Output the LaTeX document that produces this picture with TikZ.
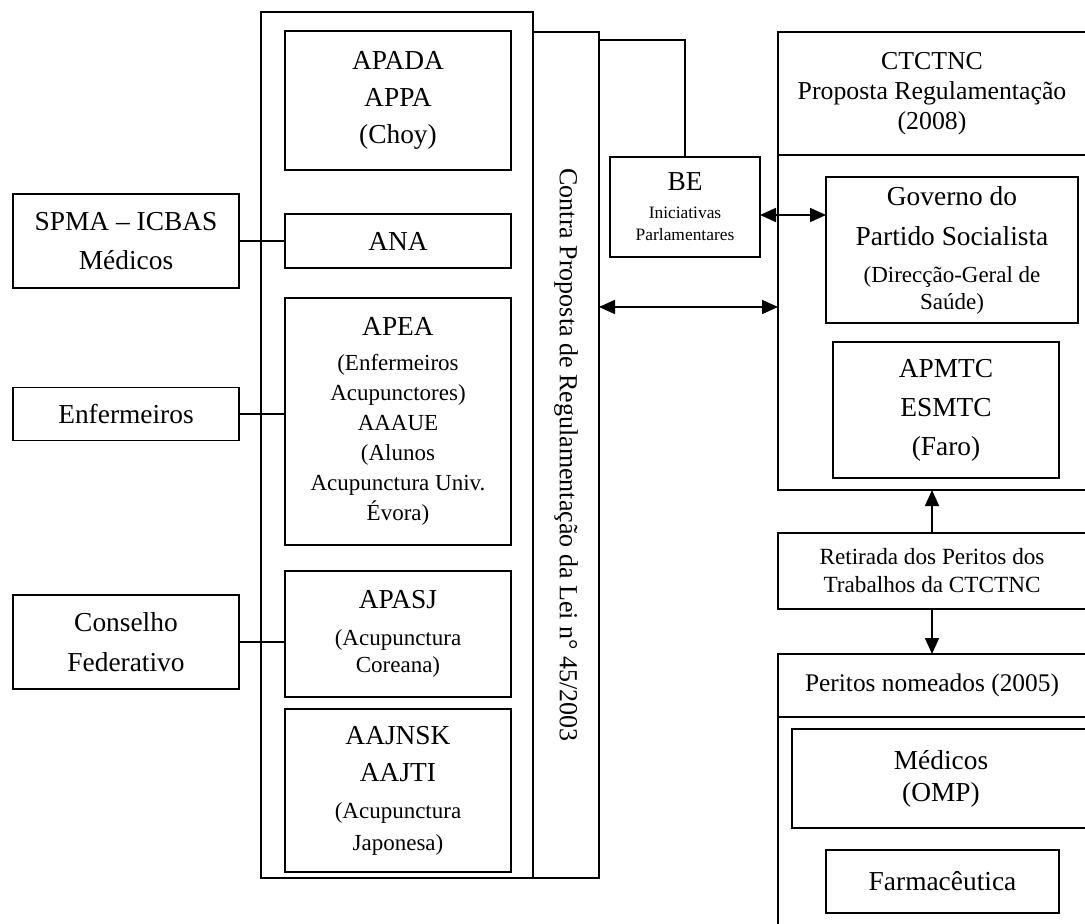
\documentclass[tikz,border=0pt]{standalone}
\usepackage{fontspec}
\setmainfont{Liberation Serif}
\usetikzlibrary{arrows.meta}

\newcommand{\bigtxt}{\fontsize{13.7}{18.5}\selectfont}
\newcommand{\medtxt}{\fontsize{11.5}{15}\selectfont}
\newcommand{\smalltxt}{\fontsize{8.7}{11}\selectfont}

\begin{document}
\begin{tikzpicture}[x=0.5pt,y=-0.5pt,line width=0.85pt,
  box/.style={draw,rectangle,inner sep=0pt,outer sep=0pt,align=center,font=\bigtxt},
  tip/.style={-{Triangle[length=8pt,width=7pt]}},
  twotip/.style={{Triangle[length=8pt,width=7pt]}-{Triangle[length=8pt,width=7pt]}}]
\useasboundingbox (0,0) rectangle (1085,924);

% associations
\node at (397,445) [box,minimum width=136pt,minimum height=433pt] (assoc) {};
\node at (566,455) [box,minimum width=33pt,minimum height=423pt] (contra) {};
\node at (contra.center) [rotate=-90,font=\fontsize{13}{15}\selectfont] (contralbl) {Contra Proposta de Regulamentação da Lei n° 45/2003};
\node at (398,100.5) [box,minimum width=113pt,minimum height=69.5pt] (apada) {APADA\\APPA\\(Choy)};
\node at (398,241) [box,minimum width=113pt,minimum height=27pt] (ana) {ANA};
\node at (398,421.5) [box,minimum width=113pt,minimum height=123.5pt,font=\medtxt] (apea) {{\bigtxt APEA}\\[2.5pt](Enfermeiros\\Acupunctores)\\AAAUE\\(Alunos\\Acupunctura Univ.\\Évora)};
\node at (398,634) [box,minimum width=113pt,minimum height=63pt] (apasj) {APASJ\\{\medtxt (Acupunctura}\\[-5pt]{\medtxt Coreana)}};
\node at (398,790.5) [box,minimum width=113pt,minimum height=81.5pt] (aajnsk) {AAJNSK\\AAJTI\\{\medtxt (Acupunctura}\\[-2.5pt]{\medtxt Japonesa)}};

% left groups
\node at (126,241) [box,minimum width=113pt,minimum height=47pt] (spma) {SPMA – ICBAS\\[1pt]Médicos};
\node at (126,414) [box,minimum width=113pt,minimum height=26.5pt] (enf) {Enfermeiros};
\node at (126,642) [box,minimum width=113pt,minimum height=47pt] (cons) {Conselho\\[1.5pt]Federativo};
\draw (spma.east) -- (ana.west);
\draw (enf.east) -- (enf.east -| apea.west);
\draw (cons.east) -- (cons.east -| apasj.west);

% BE
\node at (685,207) [box,minimum width=75pt,minimum height=50pt,font=\smalltxt] (be) {{\bigtxt BE}\\[3pt]Iniciativas\\Parlamentares};
\draw (be.north) |- ([yshift=-4pt]contra.north east);

% CTCTNC
\node at (932,93.5) [box,minimum width=154pt,minimum height=61.5pt,font=\fontsize{12.9}{15}\selectfont] (ctc) {CTCTNC\\Proposta Regulamentação\\(2008)};
\node at (932,322.5) [box,minimum width=154pt,minimum height=167.5pt] (ctcbody) {};
\node at (952,250) [box,minimum width=126pt,minimum height=73pt] (gov) {Governo do\\[1.5pt]Partido Socialista\\{\medtxt (Direcção-Geral de}\\[-5pt]{\medtxt Saúde)}};
\node at (946,410) [box,minimum width=113pt,minimum height=68pt] (apmtc) {APMTC\\[1pt]ESMTC\\[1pt](Faro)};

% peritos
\node at (932,571) [box,minimum width=154pt,minimum height=38pt,font=\fontsize{11.6}{14}\selectfont] (ret) {Retirada dos Peritos dos\\Trabalhos da CTCTNC};
\node at (932,685.5) [box,minimum width=154pt,minimum height=31.5pt,font=\fontsize{12.7}{15}\selectfont] (per) {Peritos nomeados (2005)};
\node at (932,828.5) [box,minimum width=154pt,minimum height=111.5pt] (perbody) {};
\node at (941,778.5) [box,minimum width=149pt,minimum height=49.5pt] (med) {Médicos\\[-2.5pt](OMP)};
\node at (942.5,881.5) [box,minimum width=116.5pt,minimum height=31.5pt] (farm) {Farmacêutica};

% arrows
\coordinate (mid) at (0,307);
\draw[twotip] (contra.east |- mid) -- (ctcbody.west |- mid);
\draw[twotip] ([yshift=-4pt]be.east) -- ([yshift=-4pt]be.east -| gov.west);
\draw[tip] (ret.north) -- (ctcbody.south);
\draw[tip] (ret.south) -- (per.north);
\end{tikzpicture}
\end{document}
